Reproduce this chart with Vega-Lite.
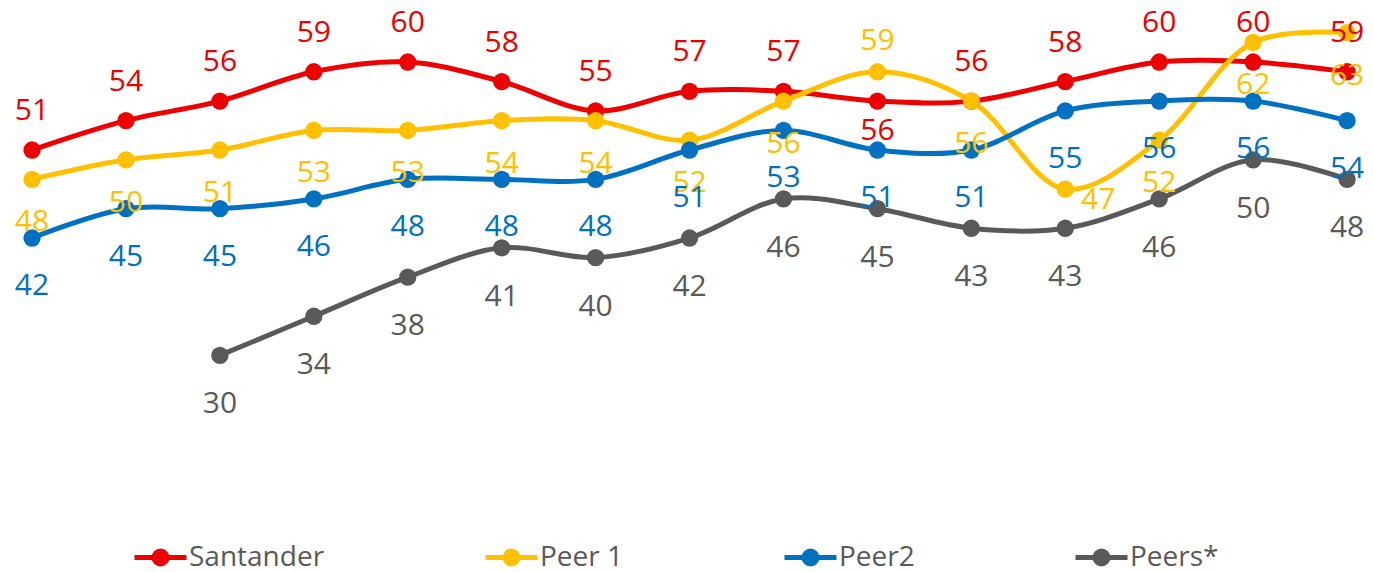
{
  "$schema": "https://vega.github.io/schema/vega-lite/v6.json",
  "width": 1373,
  "height": 572,
  "autosize": {"type": "none"},
  "padding": 0,
  "background": "white",
  "config": {"view": {"stroke": null}, "font": "Open Sans"},
  "data": {"values": [
    {"x": 1, "series": "Santander", "v": 51},
    {"x": 2, "series": "Santander", "v": 54},
    {"x": 3, "series": "Santander", "v": 56},
    {"x": 4, "series": "Santander", "v": 59},
    {"x": 5, "series": "Santander", "v": 60},
    {"x": 6, "series": "Santander", "v": 58},
    {"x": 7, "series": "Santander", "v": 55},
    {"x": 8, "series": "Santander", "v": 57},
    {"x": 9, "series": "Santander", "v": 57},
    {"x": 10, "series": "Santander", "v": 56},
    {"x": 11, "series": "Santander", "v": 56},
    {"x": 12, "series": "Santander", "v": 58},
    {"x": 13, "series": "Santander", "v": 60},
    {"x": 14, "series": "Santander", "v": 60},
    {"x": 15, "series": "Santander", "v": 59},
    {"x": 1, "series": "Peer 1", "v": 48},
    {"x": 2, "series": "Peer 1", "v": 50},
    {"x": 3, "series": "Peer 1", "v": 51},
    {"x": 4, "series": "Peer 1", "v": 53},
    {"x": 5, "series": "Peer 1", "v": 53},
    {"x": 6, "series": "Peer 1", "v": 54},
    {"x": 7, "series": "Peer 1", "v": 54},
    {"x": 8, "series": "Peer 1", "v": 52},
    {"x": 9, "series": "Peer 1", "v": 56},
    {"x": 10, "series": "Peer 1", "v": 59},
    {"x": 11, "series": "Peer 1", "v": 56},
    {"x": 12, "series": "Peer 1", "v": 47},
    {"x": 13, "series": "Peer 1", "v": 52},
    {"x": 14, "series": "Peer 1", "v": 62},
    {"x": 15, "series": "Peer 1", "v": 63},
    {"x": 1, "series": "Peer2", "v": 42},
    {"x": 2, "series": "Peer2", "v": 45},
    {"x": 3, "series": "Peer2", "v": 45},
    {"x": 4, "series": "Peer2", "v": 46},
    {"x": 5, "series": "Peer2", "v": 48},
    {"x": 6, "series": "Peer2", "v": 48},
    {"x": 7, "series": "Peer2", "v": 48},
    {"x": 8, "series": "Peer2", "v": 51},
    {"x": 9, "series": "Peer2", "v": 53},
    {"x": 10, "series": "Peer2", "v": 51},
    {"x": 11, "series": "Peer2", "v": 51},
    {"x": 12, "series": "Peer2", "v": 55},
    {"x": 13, "series": "Peer2", "v": 56},
    {"x": 14, "series": "Peer2", "v": 56},
    {"x": 15, "series": "Peer2", "v": 54},
    {"x": 3, "series": "Peers*", "v": 30},
    {"x": 4, "series": "Peers*", "v": 34},
    {"x": 5, "series": "Peers*", "v": 38},
    {"x": 6, "series": "Peers*", "v": 41},
    {"x": 7, "series": "Peers*", "v": 40},
    {"x": 8, "series": "Peers*", "v": 42},
    {"x": 9, "series": "Peers*", "v": 46},
    {"x": 10, "series": "Peers*", "v": 45},
    {"x": 11, "series": "Peers*", "v": 43},
    {"x": 12, "series": "Peers*", "v": 43},
    {"x": 13, "series": "Peers*", "v": 46},
    {"x": 14, "series": "Peers*", "v": 50},
    {"x": 15, "series": "Peers*", "v": 48}
  ]},
  "encoding": {
    "x": {"field": "x", "type": "quantitative", "axis": null,
          "scale": {"domain": [0.659, 15.276], "nice": false, "zero": false}},
    "y": {"field": "v", "type": "quantitative", "axis": null,
          "scale": {"domain": [7.85, 66.34], "nice": false, "zero": false}},
    "color": {"field": "series", "type": "nominal",
      "scale": {"domain": ["Santander", "Peer 1", "Peer2", "Peers*"],
                "range": ["#EC0000", "#FFC000", "#0070C0", "#595959"]},
      "legend": {
        "title": null, "orient": "none", "legendX": 132, "legendY": 529,
        "direction": "horizontal", "columns": 4, "columnPadding": 150, "padding": 0,
        "symbolType": "M-1,0H1M0.25,0A0.25,0.25,0,1,1,-0.25,0A0.25,0.25,0,1,1,0.25,0Z",
        "symbolSize": 2704, "symbolStrokeWidth": 5, "symbolOpacity": 1,
        "labelFont": "Open Sans", "labelFontSize": 28, "labelColor": "#595959", "labelOffset": 0,
        "encode": {"symbols": {"update": {
          "fill": {"scale": "color", "field": "value"},
          "stroke": {"scale": "color", "field": "value"}}}}
      }}
  },
  "layer": [
    {"mark": {"type": "line", "strokeWidth": 5, "interpolate": "catmull-rom"}},
    {"mark": {"type": "point", "filled": true, "size": 300, "opacity": 1}},
    {"transform": [{"filter": "datum.series == 'Santander' && datum.x != 10"}],
     "mark": {"type": "text", "dy": -39, "fontSize": 30, "font": "Open Sans"},
     "encoding": {"text": {"field": "v"}, "color": {"field": "series", "legend": null}}},
    {"transform": [{"filter": "datum.series == 'Santander' && datum.x == 10"}],
     "mark": {"type": "text", "dy": 30, "fontSize": 30, "font": "Open Sans"},
     "encoding": {"text": {"field": "v"}, "color": {"field": "series", "legend": null}}},
    {"transform": [{"filter": "datum.series == 'Peer 1' && datum.x != 10 && datum.x != 12"}],
     "mark": {"type": "text", "dy": 43, "fontSize": 30, "font": "Open Sans"},
     "encoding": {"text": {"field": "v"}, "color": {"field": "series", "legend": null}}},
    {"transform": [{"filter": "datum.series == 'Peer 1' && datum.x == 10"}],
     "mark": {"type": "text", "dy": -31, "fontSize": 30, "font": "Open Sans"},
     "encoding": {"text": {"field": "v"}, "color": {"field": "series", "legend": null}}},
    {"transform": [{"filter": "datum.series == 'Peer 1' && datum.x == 12"}],
     "mark": {"type": "text", "dx": 33, "dy": 11, "fontSize": 30, "font": "Open Sans"},
     "encoding": {"text": {"field": "v"}, "color": {"field": "series", "legend": null}}},
    {"transform": [{"filter": "datum.series == 'Peer2'"}],
     "mark": {"type": "text", "dy": 48, "fontSize": 30, "font": "Open Sans"},
     "encoding": {"text": {"field": "v"}, "color": {"field": "series", "legend": null}}},
    {"transform": [{"filter": "datum.series == 'Peers*'"}],
     "mark": {"type": "text", "dy": 49, "fontSize": 30, "font": "Open Sans"},
     "encoding": {"text": {"field": "v"}, "color": {"field": "series", "legend": null}}}
  ]
}
